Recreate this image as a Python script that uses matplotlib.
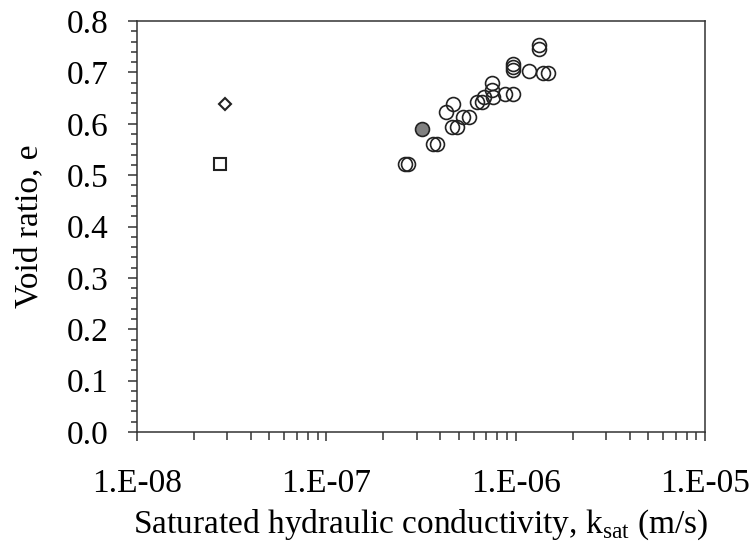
import math
import matplotlib
matplotlib.use('Agg')
import matplotlib.pyplot as plt
from matplotlib.ticker import MultipleLocator, LogLocator, FuncFormatter, NullFormatter

plt.rcParams['font.family'] = ['Liberation Serif', 'DejaVu Serif']
plt.rcParams['mathtext.fontset'] = 'custom'
plt.rcParams['mathtext.rm'] = 'Liberation Serif'

# circles (open)
k_circ = [2.6e-7, 2.7e-7, 3.67e-7, 3.85e-7, 4.27e-7, 4.65e-7, 4.6e-7, 4.9e-7,
          5.26e-7, 5.7e-7, 6.24e-7, 6.6e-7, 6.8e-7, 7.5e-7, 7.5e-7, 7.6e-7,
          8.8e-7, 9.7e-7, 9.7e-7, 9.7e-7, 9.7e-7, 1.18e-6, 1.33e-6, 1.33e-6,
          1.39e-6, 1.49e-6]
e_circ = [0.521, 0.521, 0.56, 0.56, 0.623, 0.639, 0.594, 0.594,
          0.613, 0.613, 0.643, 0.643, 0.652, 0.665, 0.680, 0.652,
          0.657, 0.657, 0.717, 0.711, 0.705, 0.702, 0.754, 0.745,
          0.699, 0.699]
# filled circle
k_fill = [3.2e-7]
e_fill = [0.589]
# diamond and square
k_diam = [2.92e-8]
e_diam = [0.639]
k_sq = [2.75e-8]
e_sq = [0.521]

fig = plt.figure(figsize=(7.5, 5.43), dpi=100)
ax = fig.add_axes([0.1827, 0.2044, 0.7573, 0.7569])

ax.plot(k_circ, e_circ, 'o', ms=10, mfc='none', mec='#222222', mew=1.2, ls='none')
ax.plot(k_fill, e_fill, 'o', ms=10, mfc='#808080', mec='#222222', mew=1.2, ls='none')
ax.plot(k_diam, e_diam, 'D', ms=6.5, mfc='none', mec='#222222', mew=1.5, ls='none')
ax.plot(k_sq, e_sq, 's', ms=8.5, mfc='none', mec='#222222', mew=1.5, ls='none')

ax.set_xscale('log')
ax.set_xlim(1e-8, 1e-5)
ax.set_ylim(0, 0.8)

ax.xaxis.set_major_locator(LogLocator(base=10, numticks=10))
ax.xaxis.set_minor_locator(LogLocator(base=10, subs=range(2, 10), numticks=10))
ax.xaxis.set_minor_formatter(NullFormatter())
ax.xaxis.set_major_formatter(FuncFormatter(lambda v, p: '1.E-%02d' % round(-math.log10(v))))
ax.yaxis.set_major_locator(MultipleLocator(0.1))
ax.yaxis.set_minor_locator(MultipleLocator(0.02))
ax.yaxis.set_major_formatter(FuncFormatter(lambda v, p: '%.1f' % v))

for s in ax.spines.values():
    s.set_linewidth(1.1)
    s.set_color('#333333')

ax.tick_params(which='major', direction='out', length=6.5, width=1.1, color='#333333',
               labelsize=24, pad=14)
ax.tick_params(which='minor', direction='out', length=4.5, width=1.1, color='#333333')
ax.tick_params(axis='x', which='major', pad=20)
ax.tick_params(axis='x', which='minor', length=5.5)

ax.set_xlabel(r'Saturated hydraulic conductivity, k$_{\mathrm{sat}}$ (m/s)', fontsize=24, labelpad=6)
ax.set_ylabel('Void ratio, e', fontsize=24, labelpad=16)

fig.savefig('out.png', dpi=100)
